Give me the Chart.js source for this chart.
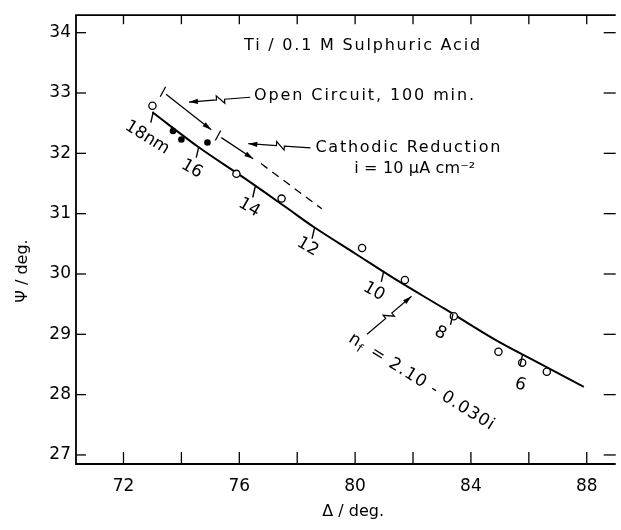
<!DOCTYPE html>
<html>
<head>
<meta charset="utf-8">
<script src="https://cdn.jsdelivr.net/npm/chart.js@4.4.1/dist/chart.umd.min.js"></script>
<style>
  html, body { margin: 0; padding: 0; background: #fff; }
</style>
</head>
<body>
<canvas id="chart" width="621" height="530"></canvas>
<script>
// measured ellipsometric points (Delta, Psi in degrees)
const openDelta = [73.0, 75.9, 77.46, 80.24, 81.72, 83.41, 84.95, 85.77, 86.62];
const openPsi   = [32.79, 31.66, 31.25, 30.43, 29.90, 29.30, 28.71, 28.53, 28.38];
const filledDelta = [73.71, 74.0, 74.9];
const filledPsi   = [32.37, 32.23, 32.18];

// calculated curve for nf = 2.10 - 0.030i
const curveDelta = [73.0, 74.6, 76.2, 77.6, 78.6, 80.0, 81.4, 83.1, 84.8, 86.4, 87.9];
const curvePsi   = [32.68, 32.10, 31.58, 31.11, 30.77, 30.34, 29.91, 29.42, 28.92, 28.51, 28.13];

// film thickness marks on the curve (nm)
const thickNm    = [18, 16, 14, 12, 10, 8, 6];
const thickDelta = [73.03, 74.60, 76.55, 78.60, 80.99, 83.38, 85.78];
const thickPsi   = [32.69, 32.11, 31.45, 30.77, 30.05, 29.34, 28.66];

// open circuit / cathodic reduction track
const ocDelta   = [73.47, 75.03];
const ocPsi     = [32.98, 32.39];
const crDelta   = [75.38, 76.48];
const crPsi     = [32.26, 31.91];
const dashDelta = [76.75, 78.85];
const dashPsi   = [31.83, 31.08];

const xTicks = [72, 74, 76, 78, 80, 82, 84, 86, 88];
const yTicks = [27, 28, 29, 30, 31, 32, 33, 34];

const FONT = '"DejaVu Sans", sans-serif';

// where the labels sit (data coords) and how they look
const thickLabelAt = [[72.82, 32.26, 32], [74.36, 31.74, 30], [76.34, 31.10, 30], [78.36, 30.45, 30],
                      [80.65, 29.71, 30], [82.94, 29.02, 28], [85.71, 28.16, 15]];
const notes = [
  { text: 'Ti / 0.1 M Sulphuric Acid', at: [80.24, 33.78], width: 236, align: 'center' },
  { text: 'Open Circuit, 100 min.', at: [76.51, 32.95], width: 220, align: 'left' },
  { text: 'Cathodic Reduction', at: [78.63, 32.09], width: 185, align: 'left' },
  { text: 'i = 10 \u03bcA cm\u207b\u00b2', at: [79.97, 31.74], width: 121, align: 'left' }
];
const pointers = [
  [[76.38, 32.93], [74.26, 32.85]],
  [[78.46, 32.09], [76.31, 32.16]],
  [[80.41, 29.00], [81.95, 29.63]]
];

const toXY = (xs, ys) => xs.map((x, i) => ({ x, y: ys[i] }));

function spaced(ctx, text, x, y, width, align) {
  ctx.letterSpacing = '0px';
  const w = ctx.measureText(text).width;
  const n = [...text].length;
  ctx.letterSpacing = ((width - w) / (n - 1)) + 'px';
  ctx.textAlign = 'left';
  ctx.fillText(text, align === 'center' ? x - width / 2 : x, y);
  ctx.letterSpacing = '0px';
}

function head(ctx, x, y, dx, dy) {
  const len = 9, half = 2.6;
  ctx.beginPath();
  ctx.moveTo(x, y);
  ctx.lineTo(x - dx * len - dy * half, y - dy * len + dx * half);
  ctx.lineTo(x - dx * len + dy * half, y - dy * len - dx * half);
  ctx.closePath();
  ctx.fill();
}

function breakArrow(ctx, x0, y0, x1, y1) {
  const L = Math.hypot(x1 - x0, y1 - y0), dx = (x1 - x0) / L, dy = (y1 - y0) / L;
  const nx = -dy, ny = dx;
  const mx = x0 + dx * L * 0.42, my = y0 + dy * L * 0.42;
  ctx.beginPath();
  ctx.moveTo(x0, y0);
  ctx.lineTo(mx, my);
  ctx.lineTo(mx - nx * 4, my - ny * 4);
  ctx.lineTo(mx + dx * 8 + nx * 4, my + dy * 8 + ny * 4);
  ctx.lineTo(mx + dx * 8, my + dy * 8);
  ctx.lineTo(x1, y1);
  ctx.stroke();
  head(ctx, x1, y1, dx, dy);
}

const decor = {
  id: 'decor',
  afterDatasetsDraw(chart) {
    const { ctx, chartArea: a, scales: { x, y } } = chart;
    const P = (d, p) => [x.getPixelForValue(d), y.getPixelForValue(p)];
    const seg = (x0, y0, x1, y1) => { ctx.beginPath(); ctx.moveTo(x0, y0); ctx.lineTo(x1, y1); ctx.stroke(); };
    ctx.save();
    ctx.strokeStyle = '#000';
    ctx.fillStyle = '#000';

    // frame and inward ticks
    ctx.lineWidth = 1.8;
    ctx.beginPath();
    ctx.moveTo(a.right, a.top); ctx.lineTo(a.left, a.top);
    ctx.lineTo(a.left, a.bottom); ctx.lineTo(a.right, a.bottom);
    ctx.stroke();
    ctx.lineWidth = 1.3;
    x.ticks.forEach(t => {
      const X = x.getPixelForValue(t.value);
      seg(X, a.bottom, X, a.bottom - 12);
      seg(X, a.top, X, a.top + 9);
    });
    y.ticks.forEach(t => {
      const Y = y.getPixelForValue(t.value);
      seg(a.left, Y, a.left + 10, Y);
      seg(a.right, Y, a.right - 12, Y);
    });

    // thickness marks on the curve
    ctx.lineWidth = 1.4;
    ctx.font = '17px ' + FONT;
    ctx.textAlign = 'center';
    ctx.textBaseline = 'middle';
    thickNm.forEach((nm, i) => {
      const [X, Y] = P(thickDelta[i], thickPsi[i]);
      seg(X, Y, X - 2.5, Y + 11);
      const [lx, ly] = P(thickLabelAt[i][0], thickLabelAt[i][1]);
      ctx.save();
      ctx.translate(lx, ly);
      ctx.rotate(thickLabelAt[i][2] * Math.PI / 180);
      ctx.fillText(i === 0 ? nm + 'nm' : String(nm), 0, 0);
      ctx.restore();
    });

    // track ticks and arrow heads
    ctx.lineWidth = 1.3;
    [[ocDelta, ocPsi], [crDelta, crPsi]].forEach(([ds, ps]) => {
      const [x0, y0] = P(ds[0], ps[0]);
      const [x1, y1] = P(ds[1], ps[1]);
      const L = Math.hypot(x1 - x0, y1 - y0), dx = (x1 - x0) / L, dy = (y1 - y0) / L;
      const cx = x0 - dx * 4, cy = y0 - dy * 4;
      seg(cx - 2.7, cy + 5, cx + 2.7, cy - 5);
      head(ctx, x1, y1, dx, dy);
    });

    // pointer arrows
    ctx.lineWidth = 1.2;
    pointers.forEach(([from, to]) => {
      const [x0, y0] = P(from[0], from[1]);
      const [x1, y1] = P(to[0], to[1]);
      breakArrow(ctx, x0, y0, x1, y1);
    });

    // text notes
    ctx.font = '16px ' + FONT;
    ctx.textBaseline = 'middle';
    notes.forEach(n => {
      const [X, Y] = P(n.at[0], n.at[1]);
      spaced(ctx, n.text, X, Y, n.width, n.align);
    });

    // refractive index label
    const [nx0, ny0] = P(79.83, 28.95);
    ctx.save();
    ctx.translate(nx0, ny0);
    ctx.rotate(32 * Math.PI / 180);
    ctx.textAlign = 'left';
    ctx.font = '17px ' + FONT;
    ctx.fillText('n', 0, 0);
    const wn = ctx.measureText('n').width;
    ctx.font = '12px ' + FONT;
    ctx.fillText('f', wn + 1, 5);
    ctx.font = '17px ' + FONT;
    spaced(ctx, ' = 2.10 - 0.030i', wn + 8, 0, 168 - wn - 8, 'left');
    ctx.restore();

    // axis titles
    ctx.font = '16px ' + FONT;
    ctx.textAlign = 'center';
    ctx.fillText('\u0394 / deg.', (x.getPixelForValue(80) - 2), 512);
    ctx.save();
    ctx.translate(23, 271);
    ctx.rotate(-Math.PI / 2);
    ctx.fillText('\u03a8 / deg.', 0, 0);
    ctx.restore();

    ctx.restore();
  }
};

new Chart(document.getElementById('chart'), {
  type: 'scatter',
  data: {
    datasets: [
      {
        data: toXY(openDelta, openPsi),
        pointRadius: 3.6,
        pointBorderWidth: 1.3,
        pointBackgroundColor: '#fff',
        pointBorderColor: '#000',
        order: 0
      },
      {
        data: toXY(filledDelta, filledPsi),
        pointRadius: 3.3,
        pointBorderWidth: 0,
        pointBackgroundColor: '#000',
        pointBorderColor: '#000',
        order: 1
      },
      {
        data: toXY(curveDelta, curvePsi),
        showLine: true,
        borderColor: '#000',
        borderWidth: 2,
        pointRadius: 0,
        tension: 0.35,
        order: 2
      },
      {
        data: toXY(ocDelta, ocPsi),
        showLine: true,
        borderColor: '#000',
        borderWidth: 1.3,
        pointRadius: 0,
        order: 3
      },
      {
        data: toXY(crDelta, crPsi),
        showLine: true,
        borderColor: '#000',
        borderWidth: 1.3,
        pointRadius: 0,
        order: 3
      },
      {
        data: toXY(dashDelta, dashPsi),
        showLine: true,
        borderColor: '#000',
        borderWidth: 1.3,
        borderDash: [8, 6],
        pointRadius: 0,
        order: 3
      }
    ]
  },
  options: {
    responsive: false,
    animation: false,
    layout: { padding: { top: 14, right: 0, left: 0, bottom: 0 } },
    plugins: { legend: { display: false }, tooltip: { enabled: false } },
    scales: {
      x: {
        type: 'linear',
        min: 70.36,
        max: 89.0,
        afterBuildTicks: s => { s.ticks = xTicks.map(v => ({ value: v })); },
        afterFit: s => { s.height = 66; },
        grid: { display: false, drawTicks: false },
        border: { display: false },
        ticks: {
          autoSkip: false,
          maxRotation: 0,
          padding: 12,
          color: '#000',
          font: { family: FONT, size: 17 },
          callback: v => (v % 4 === 0 ? v : '')
        }
      },
      y: {
        type: 'linear',
        min: 26.85,
        max: 34.29,
        afterBuildTicks: s => { s.ticks = yTicks.map(v => ({ value: v })); },
        afterFit: s => { s.width = 76; },
        grid: { display: false, drawTicks: false },
        border: { display: false },
        ticks: {
          padding: 5,
          color: '#000',
          font: { family: FONT, size: 17 }
        }
      }
    }
  },
  plugins: [decor]
});
</script>
</body>
</html>
